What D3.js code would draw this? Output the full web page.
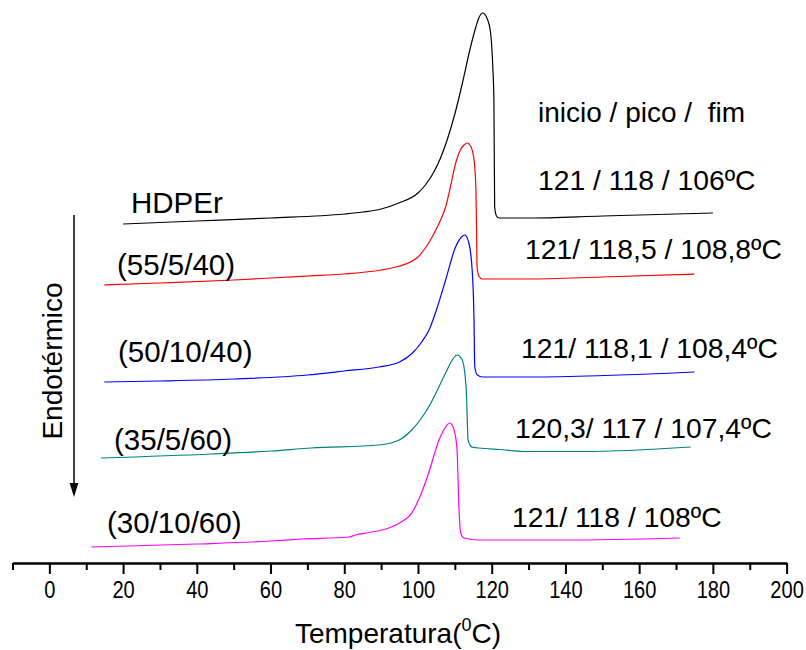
<!DOCTYPE html>
<html>
<head>
<meta charset="utf-8">
<script src="https://cdn.jsdelivr.net/npm/d3@7"></script>
<style>
  html, body { margin: 0; padding: 0; background: #fff; }
  svg { display: block; }
  text { font-family: "Liberation Sans", Arial, sans-serif; fill: #000; white-space: pre; }
</style>
</head>
<body>
<svg id="chart" width="806" height="650"></svg>
<script>
// ---- data (temperature in °C, signal in arbitrary units with vertical offsets) ----
const majorTicks = [0, 20, 40, 60, 80, 100, 120, 140, 160, 180, 200];
const minorTicks = [-10, 10, 30, 50, 70, 90, 110, 130, 150, 170, 190];

const tempHDPEr   = [20, 40, 60, 80, 85, 90, 94.8, 100, 102, 104, 106, 108, 110, 112, 114, 115.7, 116.5, 117.6, 118.7, 119.7, 120.3, 120.6, 120.8, 121.3, 122, 130, 150, 180];
const signalHDPEr = [33.9, 34.2, 34.5, 34.9, 35.1, 35.4, 36.0, 37.0, 37.8, 38.9, 40.4, 42.4, 44.9, 47.9, 51.2, 53.6, 54.5, 55.0, 54.5, 53.0, 49.6, 46.3, 35.6, 34.7, 34.5, 34.5, 34.7, 35.0];

const temp55 =   [14.9, 30, 50, 60, 70, 80, 90, 95, 98, 100, 102, 104, 106, 107.5, 108.8, 110.3, 111.5, 112.5, 113.3, 114.4, 115.2, 115.7, 115.9, 116.0, 116.5, 117.5, 130, 150, 175];
const signal55 = [27.8, 28.0, 28.3, 28.5, 28.7, 28.9, 29.3, 29.7, 30.1, 30.6, 31.5, 32.7, 34.2, 35.6, 37.6, 40.1, 41.3, 41.8, 42.0, 41.6, 40.3, 37.6, 33.3, 29.8, 28.7, 28.4, 28.4, 28.6, 28.9];

const temp50 =   [14.9, 30, 50, 70, 80, 89.4, 95, 98.5, 101, 103, 105, 107.5, 110.2, 111.8, 112.7, 113.8, 114.7, 115.2, 115.4, 116.1, 117.5, 130, 175];
const signal50 = [18.1, 18.2, 18.4, 18.8, 19.2, 19.6, 20.1, 21.0, 22.1, 23.3, 25.3, 28.3, 31.6, 32.6, 32.8, 32.0, 29.3, 24.3, 19.6, 18.8, 18.6, 18.6, 19.1];

const temp35 =   [14, 44, 60, 71, 89.4, 94.9, 98.3, 102.9, 107.5, 109.3, 110.6, 112, 113.1, 113.6, 114.7, 116.5, 122, 130, 145, 174];
const signal35 = [10.5, 10.9, 11.2, 11.5, 11.8, 12.3, 13.3, 15.6, 19.0, 20.3, 20.8, 20.3, 17.3, 12.3, 11.58, 11.5, 11.35, 11.15, 11.15, 11.6];

const temp30 =   [11.4, 40, 60, 68.5, 81.3, 83.1, 86.7, 92.1, 95, 98.3, 100.5, 102.9, 105.7, 107, 108.6, 109.8, 110.6, 111.1, 111.6, 112.5, 116.5, 140, 171];
const signal30 = [1.6, 1.9, 2.2, 2.4, 2.6, 2.8, 3.05, 3.5, 4.0, 5.0, 6.6, 9.0, 12.3, 13.3, 14.0, 13.3, 11.3, 5.6, 3.0, 2.5, 2.3, 2.3, 2.5];

const seriesNames  = ["HDPEr", "(55/5/40)", "(50/10/40)", "(35/5/60)", "(30/10/60)"];
const seriesTemps  = [tempHDPEr, temp55, temp50, temp35, temp30];
const seriesValues = [signalHDPEr, signal55, signal50, signal35, signal30];
const seriesColors = ["#000000", "#ff0000", "#0000ff", "#008080", "#ff00ff"];

const annotHeader = "inicio / pico /  fim";
const annotations = ["121 / 118 / 106ºC", "121/ 118,5 / 108,8ºC", "121/ 118,1 / 108,4ºC", "120,3/ 117 / 107,4ºC", "121/ 118 / 108ºC"];

// ---- layout ----
const svg = d3.select("#chart");
const x = d3.scaleLinear().domain([-10, 200]).range([12.5, 786.6]);
const y = d3.scaleLinear().domain([0, 55]).range([563, 13]);
const axisY = 563;

// curves
const line = d3.line().x(d => x(d[0])).y(d => y(d[1])).curve(d3.curveMonotoneX);
seriesTemps.forEach((ts, i) => {
  const pts = ts.map((t, j) => [t, seriesValues[i][j]]);
  svg.append("path").datum(pts)
    .attr("d", line)
    .attr("fill", "none")
    .attr("stroke", seriesColors[i])
    .attr("stroke-width", 1.2);
});

// axis
const gMinor = svg.append("g").attr("transform", `translate(0,${axisY})`)
  .call(d3.axisBottom(x).tickValues(minorTicks).tickSize(7).tickSizeOuter(0).tickFormat(""));
const gMajor = svg.append("g").attr("transform", `translate(0,${axisY})`)
  .call(d3.axisBottom(x).tickValues(majorTicks).tickSize(11).tickSizeOuter(0).tickFormat(d3.format("d")));
[gMinor, gMajor].forEach(g => {
  g.select(".domain").attr("stroke", "#000").attr("stroke-width", 2);
  g.selectAll(".tick line").attr("stroke", "#000").attr("stroke-width", 2);
});
gMajor.selectAll(".tick text")
  .attr("y", 35).attr("dy", 0)
  .attr("transform", "scale(0.82,1)")
  .style("font-size", "24.5px")
  .style("font-family", "'Liberation Sans', Arial, sans-serif")
  .attr("fill", "#000");

// x-axis title
const title = svg.append("text").attr("x", 398).attr("y", 643)
  .attr("text-anchor", "middle").style("font-size", "28px");
title.append("tspan").text("Temperatura(");
title.append("tspan").attr("dy", -12).style("font-size", "18px").text("0");
title.append("tspan").attr("dy", 12).text("C)");

// series labels
const labelPos = [[131, 213], [117, 275], [118, 362], [114, 450], [107, 533]];
seriesNames.forEach((n, i) => {
  svg.append("text").attr("x", labelPos[i][0]).attr("y", labelPos[i][1])
    .style("font-size", "29.5px").text(n);
});

// annotations
svg.append("text").attr("x", 538).attr("y", 122).style("font-size", "28px").text(annotHeader);
const annotPos = [[538, 190], [525, 259], [521, 358], [515, 438], [512, 527]];
annotations.forEach((a, i) => {
  svg.append("text").attr("x", annotPos[i][0]).attr("y", annotPos[i][1])
    .style("font-size", "28.3px").text(a);
});

// Endotérmico label and arrow
svg.append("text").attr("transform", "translate(62,361) rotate(-90)")
  .attr("text-anchor", "middle").style("font-size", "28px").text("Endotérmico");
svg.append("line").attr("x1", 74).attr("x2", 74).attr("y1", 215).attr("y2", 486)
  .attr("stroke", "#000").attr("stroke-width", 1.5);
svg.append("path").attr("d", "M69.6,483 L78.4,483 L74,497 Z").attr("fill", "#000");
</script>
</body>
</html>
